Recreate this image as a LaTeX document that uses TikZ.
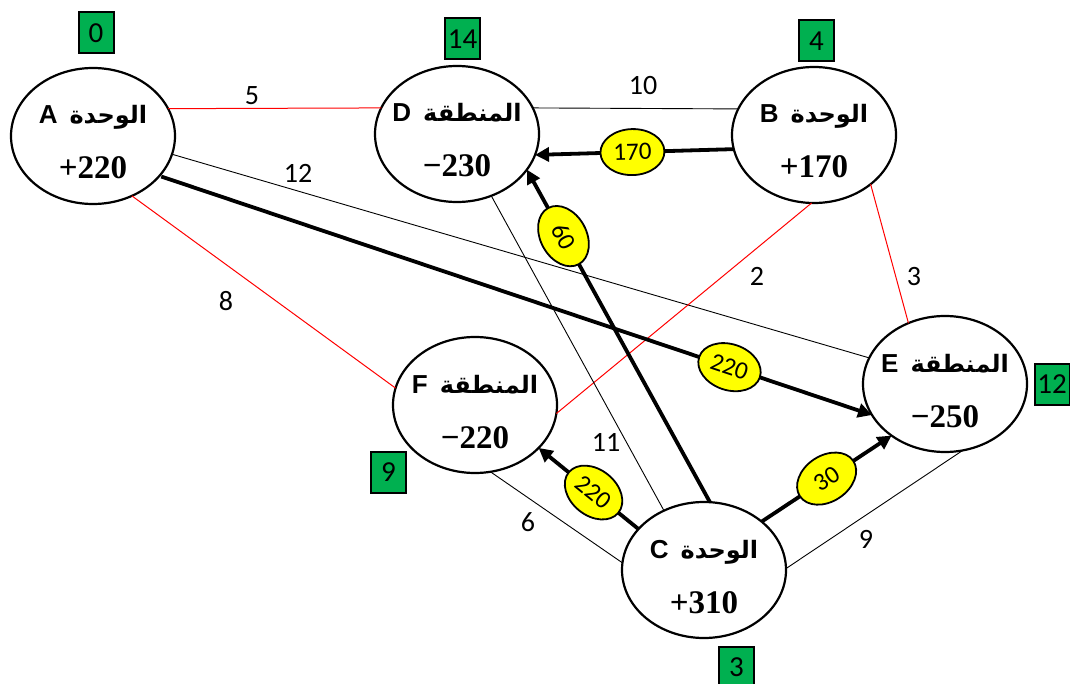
\documentclass[tikz,border=0pt]{standalone}
\usepackage{fontspec}
\usetikzlibrary{arrows.meta,shapes.geometric}
\TeXXeTstate=1
\newfontfamily\arabicfont[Script=Arabic]{DejaVu Sans}
\newfontfamily\lblfont{Carlito}
\newfontfamily\numfont{Liberation Serif}
\newfontfamily\latfont{Liberation Sans}
\definecolor{boxgreen}{RGB}{0,176,80}
\definecolor{flowyellow}{RGB}{255,255,0}
\newcommand\mkplace[6]{%
  \node[ell] (#1) at (#2,#3) {};
  \node[nametxt] (#1-name) at ([yshift=12pt]#1.center) {{\latfont\bfseries\fontsize{26}{28}\selectfont #4}\hspace{12pt}{\arabicfont\bfseries\fontsize{24}{28}\selectfont\beginR #5\endR}};
  \node[numtxt] (#1-num) at ([yshift=-43pt]#1.center) {#6};
}
\begin{document}
\begin{tikzpicture}[x=1pt,y=-1pt,
  ell/.style={draw, fill=white, ellipse, line width=2.2pt, minimum width=164pt, minimum height=136pt, inner sep=0pt, outer sep=0pt},
  nametxt/.style={anchor=base, inner sep=0pt},
  numtxt/.style={anchor=base, inner sep=0pt, font=\numfont\bfseries\fontsize{33}{35}\selectfont},
  redline/.style={draw=red, line width=1pt},
  blkline/.style={draw=black, line width=0.9pt},
  flow/.style={draw=black, line width=3.8pt, -{Triangle[length=14pt,width=14pt]}},
  flowlbl/.style={draw=black, fill=flowyellow, ellipse, line width=1.8pt, minimum width=64pt, minimum height=46pt, inner sep=0pt, sloped, font=\lblfont\fontsize{25}{26}\selectfont},
  cost/.style={inner sep=0pt, font=\lblfont\fontsize{28}{30}\selectfont},
  gbox/.style={draw=black, fill=boxgreen, line width=2pt, minimum width=35pt, minimum height=41pt, inner sep=0pt, font=\lblfont\fontsize{29}{30}\selectfont}
]
\useasboundingbox (0,0) rectangle (1070,684);

\mkplace{A}{93}{136}{A}{الوحدة}{+220}
\mkplace{D}{457}{134}{D}{المنطقة}{−230}
\mkplace{B}{814}{135}{B}{الوحدة}{+170}
\mkplace{F}{475}{405}{F}{المنطقة}{−220}
\mkplace{E}{945}{384}{E}{المنطقة}{−250}
\mkplace{C}{704}{570}{C}{الوحدة}{+310}

% thin cost edges
\draw[redline] (A.20) -- (D.161);
\draw[blkline] (D.19) -- (B.161);
\draw[blkline] (A.-13) -- (E.161);
\draw[redline] (A.-57) -- (F.168);
\draw[redline] (B.-92) -- (F.-6);
\draw[redline] (B.-41) -- (E.121);
\draw[blkline] (D.-61) -- (C.124);
\draw[blkline] (F.-77) -- (C.175);
\draw[blkline] (C.1) -- (E.-75);

% cost labels
\node[cost] (c5) at (252,96) {5};
\node[cost] (c10) at (643,86) {10};
\node[cost] (c12) at (298,173) {12};
\node[cost] (c8) at (226,301) {8};
\node[cost] (c2) at (757,276) {2};
\node[cost] (c3) at (914,277) {3};
\node[cost] (c11) at (606,442) {11};
\node[cost] (c6) at (528,522) {6};
\node[cost] (c9) at (866,539) {9};

% flows
\draw[flow] (B.-170) -- node[flowlbl, pos=0.51] (f170) {170} (D.-15);
\draw[flow] (C.85) -- node[flowlbl, pos=0.8] (f60) {60} (D.-27);
\draw[flow, shorten <=2pt] (A.-31) -- node[flowlbl, pos=0.8] (f220a) {220} (E.-157);
\draw[flow] (C.148) -- node[flowlbl, pos=0.45] (f220b) {220} (F.-34);
\draw[flow] (C.40) -- node[flowlbl, pos=0.5] (f30) {30} (E.-136);

% potentials
\node[gbox] (gA) at (96,33) {0};
\node[gbox] (gD) at (462.5,39) {14};
\node[gbox] (gB) at (816.5,41) {4};
\node[gbox] (gF) at (388.5,472) {9};
\node[gbox] (gE) at (1052,384.5) {12};
\node[gbox] (gC) at (736.5,667) {3};
\end{tikzpicture}
\end{document}
